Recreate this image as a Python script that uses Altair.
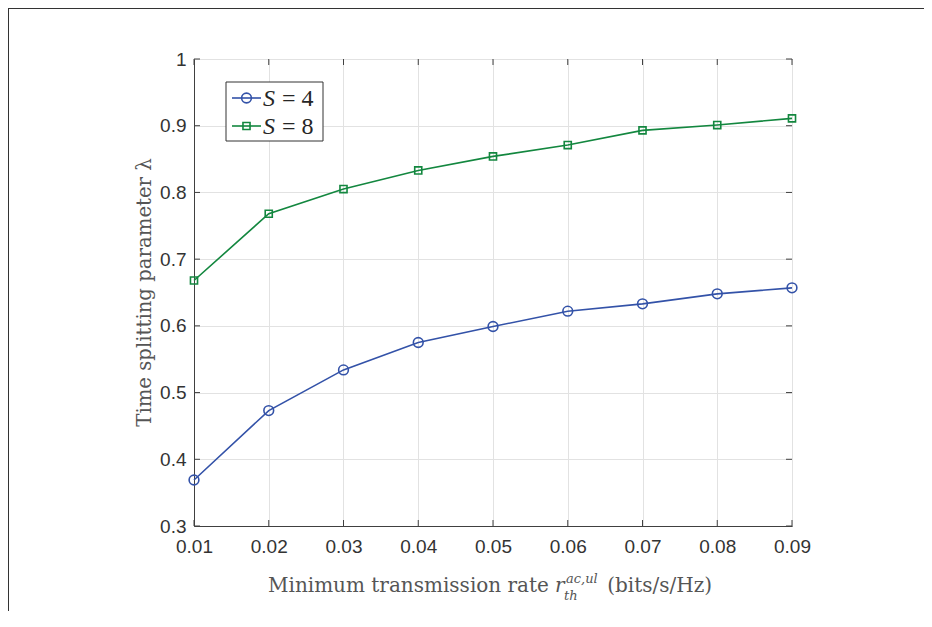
import altair as alt
import pandas as pd

# ---------------- data ----------------
x_vals = [0.01, 0.02, 0.03, 0.04, 0.05, 0.06, 0.07, 0.08, 0.09]
s4_vals = [0.369, 0.473, 0.534, 0.575, 0.599, 0.622, 0.633, 0.648, 0.657]
s8_vals = [0.668, 0.768, 0.805, 0.833, 0.854, 0.871, 0.893, 0.901, 0.911]
series_names = ["S = 4", "S = 8"]
x_ticks = [0.01, 0.02, 0.03, 0.04, 0.05, 0.06, 0.07, 0.08, 0.09]
y_ticks = [0.3, 0.4, 0.5, 0.6, 0.7, 0.8, 0.9, 1.0]

# ---------------- styling ----------------
W, H = 598, 467
colors = ["#3352a8", "#13873f"]
shapes = ["circle", "square"]
sizes = [95, 50]
axis_col = "#404040"
grid_col = "#e2e2e2"
label_col = "#333333"
title_col = "#555555"
serif = "DejaVu Serif"
sans = "Liberation Sans"

df = pd.DataFrame({
    "x": x_vals * 2,
    "y": s4_vals + s8_vals,
    "series": [series_names[0]] * len(x_vals) + [series_names[1]] * len(x_vals),
})

xscale = alt.Scale(domain=[x_ticks[0], x_ticks[-1]], nice=False, zero=False)
yscale = alt.Scale(domain=[y_ticks[0], y_ticks[-1]], nice=False, zero=False)

xaxis = alt.Axis(values=x_ticks, format=".2f", tickSize=0, labelPadding=11,
                 labelFont=sans, labelFontSize=19, labelColor=label_col,
                 domainColor=axis_col, gridColor=grid_col, gridWidth=1,
                 labelFlush=False, labelOverlap=False, title=None)
yaxis = alt.Axis(values=y_ticks, format=".1~f", tickSize=0, labelPadding=8,
                 labelFont=sans, labelFontSize=19, labelColor=label_col,
                 domainColor=axis_col, gridColor=grid_col, gridWidth=1,
                 labelFlush=False, labelOverlap=False, title=None)

X = alt.X("x:Q", scale=xscale, axis=xaxis)
Y = alt.Y("y:Q", scale=yscale, axis=yaxis)

color = alt.Color("series:N", scale=alt.Scale(domain=series_names, range=colors), legend=None)

lines = alt.Chart(df).mark_line(strokeWidth=1.6).encode(
    x=X, y=Y, color=color, detail="series:N",
)
points = alt.Chart(df).mark_point(filled=False, strokeWidth=1.6, opacity=1).encode(
    x=X, y=Y, color=color,
    shape=alt.Shape("series:N", scale=alt.Scale(domain=series_names, range=shapes), legend=None),
    size=alt.Size("series:N", scale=alt.Scale(domain=series_names, range=sizes), legend=None),
)

# inward ticks on all four sides
xt = pd.DataFrame({"x": x_ticks})
yt = pd.DataFrame({"y": y_ticks})
tick_len = 6
ticks = []
for y0, y1 in [(H, H - tick_len), (0, tick_len)]:
    ticks.append(alt.Chart(xt).mark_rule(color=axis_col, strokeWidth=1).encode(
        x=X, y=alt.value(y0), y2=alt.value(y1)))
for x0, x1 in [(0, tick_len), (W, W - tick_len)]:
    ticks.append(alt.Chart(yt).mark_rule(color=axis_col, strokeWidth=1).encode(
        y=Y, x=alt.value(x0), x2=alt.value(x1)))

one = alt.Data(values=[{}])

# custom legend
legend_layers = [
    alt.Chart(one).mark_rect(fill="white", stroke="#333333", strokeWidth=1).encode(
        x=alt.value(32), x2=alt.value(129), y=alt.value(23), y2=alt.value(82))
]
row_y = [39, 67]
for name, c, shp, sz, ry in zip(series_names, colors, shapes, sizes, row_y):
    var, val = name.split(" ", 1)
    legend_layers.append(alt.Chart(one).mark_rule(color=c, strokeWidth=1.6).encode(
        x=alt.value(38), x2=alt.value(67), y=alt.value(ry)))
    legend_layers.append(alt.Chart(one).mark_point(shape=shp, filled=False, color=c, strokeWidth=1.6,
                                                   size=sz, opacity=1).encode(
        x=alt.value(52.5), y=alt.value(ry)))
    legend_layers.append(alt.Chart(one).mark_text(text=var, font="Liberation Serif", fontSize=24,
                                                  fontStyle="italic", align="left", baseline="middle",
                                                  color="#262626").encode(
        x=alt.value(69), y=alt.value(ry + 1)))
    legend_layers.append(alt.Chart(one).mark_text(text=val, font="Liberation Serif", fontSize=24,
                                                  align="left", baseline="middle", color="#262626").encode(
        x=alt.value(88), y=alt.value(ry + 1)))

# axis titles (plot origin is at page x=194, y=59)
ttl = []
base_y = H + 66
ttl.append(alt.Chart(one).mark_text(text="Minimum transmission rate", font=serif, fontSize=20,
                                    align="left", baseline="alphabetic", color=title_col).encode(
    x=alt.value(74), y=alt.value(base_y)))
ttl.append(alt.Chart(one).mark_text(text="r", font=serif, fontSize=20, fontStyle="italic",
                                    align="left", baseline="alphabetic", color=title_col).encode(
    x=alt.value(361), y=alt.value(base_y)))
ttl.append(alt.Chart(one).mark_text(text="ac,ul", font=serif, fontSize=13, fontStyle="italic",
                                    align="left", baseline="alphabetic", color=title_col).encode(
    x=alt.value(372), y=alt.value(base_y - 9)))
ttl.append(alt.Chart(one).mark_text(text="th", font=serif, fontSize=13, fontStyle="italic",
                                    align="left", baseline="alphabetic", color=title_col).encode(
    x=alt.value(370), y=alt.value(base_y + 8)))
ttl.append(alt.Chart(one).mark_text(text="(bits/s/Hz)", font=serif, fontSize=20,
                                    align="right", baseline="alphabetic", color=title_col).encode(
    x=alt.value(518), y=alt.value(base_y)))
ttl.append(alt.Chart(one).mark_text(text="Time splitting parameter λ", font=serif, fontSize=19.7,
                                    angle=270, align="center", baseline="middle", color=title_col).encode(
    x=alt.value(-49), y=alt.value(H / 2)))

# outer figure border (top and left)
border = [
    alt.Chart(one).mark_rule(color="#333333", strokeWidth=1).encode(
        x=alt.value(-185.5), y=alt.value(-51), y2=alt.value(H + 200)),
    alt.Chart(one).mark_rule(color="#333333", strokeWidth=1).encode(
        x=alt.value(-186), x2=alt.value(W + 200), y=alt.value(-50.5)),
]

chart = alt.layer(lines, points, *ticks, *legend_layers, *ttl, *border).properties(
    width=W, height=H,
    autosize=alt.AutoSizeParams(type="none"),
    padding={"left": 186, "top": 51, "right": 132, "bottom": 85},
    background="white",
).configure_view(stroke=axis_col, strokeWidth=1)

chart.save("out.html", embed_options={"renderer": "svg", "actions": False})
